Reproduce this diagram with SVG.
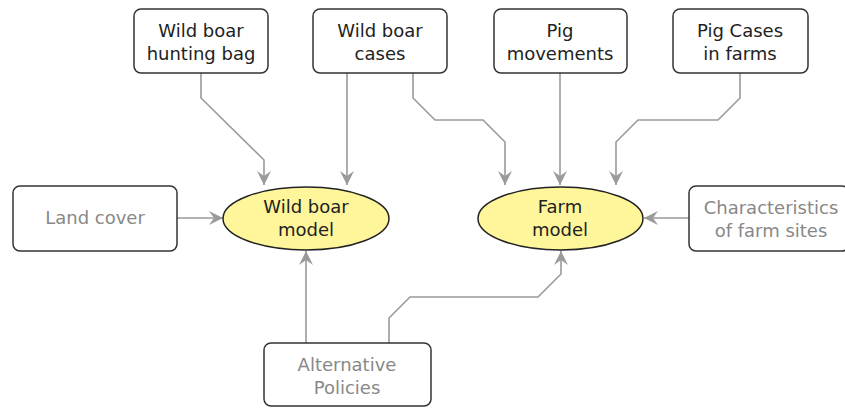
<svg xmlns="http://www.w3.org/2000/svg" width="845" height="408" viewBox="0 0 845 408">
<style>
.box{fill:#fff;stroke:#333;stroke-width:1.5}
.ell{fill:#fff59a;stroke:#222;stroke-width:1.5}
text{font-family:"DejaVu Sans",sans-serif;font-size:18px;text-anchor:middle}
.dark{fill:#222}
.grey{fill:#888}
.con{fill:none;stroke:#9a9a9a;stroke-width:1.6}
</style>
<defs>
<marker id="ah" markerUnits="userSpaceOnUse" markerWidth="16" markerHeight="14" refX="14" refY="7" orient="auto">
<path d="M0,0 L14,7 L0,14 L5,7 z" fill="#9a9a9a"/>
</marker>
</defs>
<rect width="845" height="408" fill="#fff"/>
<g id="connectors">
<path class="con" marker-end="url(#ah)" d="M201,73 V98 L264,160 V185"/>
<path class="con" marker-end="url(#ah)" d="M347,73 V185"/>
<path class="con" marker-end="url(#ah)" d="M413,73 V98 L435,120 H483 L505,142 V185"/>
<path class="con" marker-end="url(#ah)" d="M560,73 V185"/>
<path class="con" marker-end="url(#ah)" d="M740,73 V98 L718,120 H638 L616,142 V185"/>
<path class="con" marker-end="url(#ah)" d="M177,218 H223"/>
<path class="con" marker-end="url(#ah)" d="M689,218 H644"/>
<path class="con" marker-end="url(#ah)" d="M306,343 V251"/>
<path class="con" marker-end="url(#ah)" d="M389,343 V318 L410,297 H538 L561,274 V251"/>
</g>
<g id="hunting-bag">
<rect class="box" x="134" y="9" width="134" height="64" rx="7"/>
<text class="dark" x="201" y="37">Wild boar</text>
<text class="dark" x="201" y="60">hunting bag</text>
</g>
<g id="wb-cases">
<rect class="box" x="313" y="9" width="134" height="64" rx="7"/>
<text class="dark" x="380" y="37">Wild boar</text>
<text class="dark" x="380" y="60">cases</text>
</g>
<g id="pig-movements">
<rect class="box" x="494" y="9" width="133" height="64" rx="7"/>
<text class="dark" x="560" y="37">Pig</text>
<text class="dark" x="560" y="60">movements</text>
</g>
<g id="pig-cases">
<rect class="box" x="673" y="9" width="135" height="64" rx="7"/>
<text class="dark" x="740" y="37">Pig Cases</text>
<text class="dark" x="740" y="60">in farms</text>
</g>
<g id="land-cover">
<rect class="box" x="13" y="186" width="164" height="65" rx="7"/>
<text class="grey" x="95" y="224">Land cover</text>
</g>
<g id="wb-model">
<ellipse class="ell" cx="306" cy="218.5" rx="83" ry="31.5"/>
<text class="dark" x="306" y="213">Wild boar</text>
<text class="dark" x="306" y="236">model</text>
</g>
<g id="farm-model">
<ellipse class="ell" cx="560.5" cy="218.5" rx="82.5" ry="31.5"/>
<text class="dark" x="560" y="213">Farm</text>
<text class="dark" x="560" y="236">model</text>
</g>
<g id="characteristics">
<rect class="box" x="689" y="186" width="160" height="65" rx="7"/>
<text class="grey" x="771" y="214">Characteristics</text>
<text class="grey" x="771" y="237">of farm sites</text>
</g>
<g id="policies">
<rect class="box" x="264" y="343" width="167" height="63" rx="7"/>
<text class="grey" x="347" y="371">Alternative</text>
<text class="grey" x="347" y="394">Policies</text>
</g>
</svg>
